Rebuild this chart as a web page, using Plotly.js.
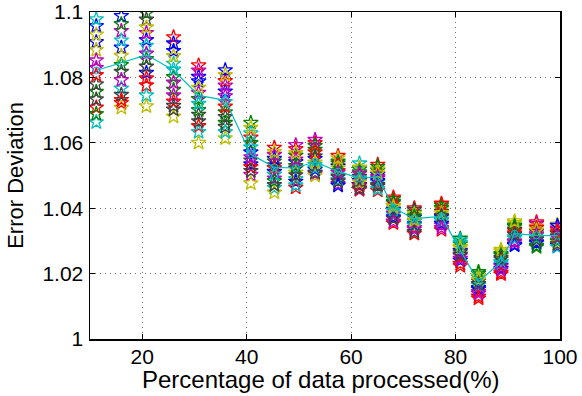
<!DOCTYPE html>
<html>
<head>
<meta charset="utf-8">
<script src="https://cdn.plot.ly/plotly-3.0.1.min.js"></script>
<style>
html,body{margin:0;padding:0;background:#fff;}
#chart{width:582px;height:396px;}
</style>
</head>
<body>
<div id="chart"></div>
<script>
// x positions (percentage of data processed)
var xPct = [11.2, 16.0, 20.8, 26.0, 30.8, 35.9, 40.8, 45.3, 49.4, 53.1, 57.5, 61.6, 65.1, 68.1, 72.1, 77.3, 80.9, 84.4, 88.7, 91.3, 95.5, 99.5];

// readings of each column (14 runs per column), ordered from top to bottom
var col01 = [1.0978, 1.0957, 1.0931, 1.0908, 1.0884, 1.0852, 1.0829, 1.0807, 1.0779, 1.0756, 1.0733, 1.0708, 1.0688, 1.0663];
var col02 = [1.0988, 1.0963, 1.0942, 1.0913, 1.0891, 1.0866, 1.0838, 1.0817, 1.0792, 1.0766, 1.0747, 1.0731, 1.0722, 1.0707];
var col03 = [1.0996, 1.0977, 1.0953, 1.0936, 1.0914, 1.0897, 1.0873, 1.0856, 1.0833, 1.0814, 1.0797, 1.0776, 1.0745, 1.0712];
var col04 = [1.0923, 1.0904, 1.0881, 1.0865, 1.0842, 1.0824, 1.0801, 1.0784, 1.0762, 1.0745, 1.0726, 1.0713, 1.0702, 1.0680];
var col05 = [1.0837, 1.0821, 1.0802, 1.0788, 1.0768, 1.0753, 1.0734, 1.0719, 1.0700, 1.0686, 1.0666, 1.0651, 1.0633, 1.0600];
var col06 = [1.0822, 1.0807, 1.0789, 1.0775, 1.0757, 1.0743, 1.0725, 1.0711, 1.0693, 1.0679, 1.0661, 1.0649, 1.0633, 1.0614];
var col07 = [1.0661, 1.0646, 1.0629, 1.0616, 1.0599, 1.0586, 1.0571, 1.0556, 1.0546, 1.0534, 1.0526, 1.0514, 1.0502, 1.0476];
var col08 = [1.0585, 1.0572, 1.0563, 1.0551, 1.0543, 1.0531, 1.0523, 1.0511, 1.0503, 1.0491, 1.0483, 1.0471, 1.0462, 1.0448];
var col09 = [1.0593, 1.0581, 1.0569, 1.0561, 1.0549, 1.0541, 1.0529, 1.0521, 1.0509, 1.0501, 1.0489, 1.0481, 1.0470, 1.0463];
var col10 = [1.0609, 1.0599, 1.0591, 1.0579, 1.0571, 1.0559, 1.0551, 1.0540, 1.0533, 1.0523, 1.0518, 1.0509, 1.0505, 1.0499];
var col11 = [1.0560, 1.0553, 1.0543, 1.0537, 1.0528, 1.0523, 1.0514, 1.0509, 1.0500, 1.0495, 1.0486, 1.0482, 1.0474, 1.0469];
var col12 = [1.0537, 1.0524, 1.0519, 1.0510, 1.0505, 1.0496, 1.0491, 1.0483, 1.0479, 1.0471, 1.0468, 1.0461, 1.0459, 1.0456];
var col13 = [1.0533, 1.0527, 1.0519, 1.0515, 1.0507, 1.0503, 1.0495, 1.0491, 1.0483, 1.0479, 1.0471, 1.0467, 1.0459, 1.0454];
var col14 = [1.0433, 1.0428, 1.0420, 1.0416, 1.0408, 1.0404, 1.0396, 1.0392, 1.0384, 1.0380, 1.0372, 1.0368, 1.0359, 1.0354];
var col15 = [1.0400, 1.0395, 1.0387, 1.0383, 1.0375, 1.0371, 1.0363, 1.0359, 1.0351, 1.0347, 1.0339, 1.0335, 1.0327, 1.0322];
var col16 = [1.0414, 1.0409, 1.0401, 1.0397, 1.0389, 1.0385, 1.0377, 1.0373, 1.0365, 1.0361, 1.0353, 1.0348, 1.0339, 1.0333];
var col17 = [1.0307, 1.0302, 1.0294, 1.0290, 1.0282, 1.0278, 1.0270, 1.0266, 1.0258, 1.0254, 1.0245, 1.0240, 1.0230, 1.0223];
var col18 = [1.0205, 1.0200, 1.0192, 1.0188, 1.0180, 1.0176, 1.0168, 1.0164, 1.0156, 1.0152, 1.0144, 1.0139, 1.0130, 1.0124];
var col19 = [1.0273, 1.0268, 1.0260, 1.0256, 1.0248, 1.0244, 1.0236, 1.0232, 1.0225, 1.0222, 1.0215, 1.0211, 1.0203, 1.0198];
var col20 = [1.0360, 1.0355, 1.0347, 1.0343, 1.0335, 1.0331, 1.0323, 1.0319, 1.0311, 1.0307, 1.0299, 1.0296, 1.0289, 1.0286];
var col21 = [1.0357, 1.0352, 1.0344, 1.0340, 1.0332, 1.0328, 1.0320, 1.0316, 1.0308, 1.0304, 1.0296, 1.0293, 1.0285, 1.0281];
var col22 = [1.0350, 1.0346, 1.0338, 1.0334, 1.0326, 1.0322, 1.0314, 1.0310, 1.0302, 1.0299, 1.0292, 1.0290, 1.0284, 1.0281];
var columns = [col01, col02, col03, col04, col05, col06, col07, col08, col09, col10, col11, col12, col13, col14, col15, col16, col17, col18, col19, col20, col21, col22];

// which reading of each column belongs to each run (run -> position in column list)
var run00 = [3, 0, 4, 2, 3, 4, 6, 7, 5, 6, 4, 7, 5, 6, 5, 7, 6, 8, 8, 13, 10, 12];
var run01 = [9, 6, 0, 8, 6, 8, 0, 4, 3, 3, 2, 2, 3, 1, 2, 1, 3, 0, 3, 3, 13, 5];
var run02 = [11, 12, 11, 0, 11, 2, 3, 0, 1, 1, 6, 13, 0, 13, 0, 13, 13, 12, 13, 5, 0, 3];
var run03 = [13, 9, 12, 5, 12, 6, 2, 12, 10, 8, 8, 0, 9, 9, 7, 8, 2, 3, 6, 8, 7, 8];
var run04 = [6, 2, 3, 9, 5, 3, 12, 9, 0, 12, 12, 12, 7, 8, 10, 11, 9, 10, 9, 10, 1, 2];
var run05 = [4, 13, 13, 13, 13, 13, 13, 13, 8, 13, 5, 1, 2, 4, 3, 3, 4, 2, 0, 1, 2, 0];
var run06 = [8, 7, 1, 12, 9, 9, 8, 5, 7, 5, 9, 5, 11, 3, 1, 4, 7, 5, 4, 4, 5, 6];
var run07 = [1, 4, 9, 1, 2, 0, 9, 3, 11, 10, 13, 9, 8, 10, 8, 10, 11, 9, 10, 12, 11, 1];
var run08 = [12, 1, 7, 6, 8, 10, 4, 10, 6, 2, 3, 3, 1, 2, 4, 2, 0, 1, 2, 2, 12, 9];
var run09 = [7, 11, 10, 10, 0, 7, 10, 6, 13, 4, 0, 10, 13, 0, 13, 0, 12, 13, 12, 6, 3, 4];
var run10 = [0, 3, 5, 4, 7, 12, 5, 8, 12, 9, 10, 6, 12, 7, 9, 9, 1, 7, 7, 9, 8, 13];
var run11 = [5, 8, 6, 7, 1, 5, 7, 2, 4, 0, 7, 4, 6, 12, 11, 12, 10, 11, 11, 11, 6, 7];
var run12 = [2, 5, 2, 3, 4, 1, 1, 1, 2, 7, 1, 8, 4, 5, 6, 5, 5, 4, 1, 0, 4, 10];
var run13 = [10, 10, 8, 11, 10, 11, 11, 11, 9, 11, 11, 11, 10, 11, 12, 6, 8, 6, 5, 7, 9, 11];
var runs = [run00, run01, run02, run03, run04, run05, run06, run07, run08, run09, run10, run11, run12, run13];

// mean error deviation (cyan line)
var meanDev = [1.0821, 1.0844, 1.0869, 1.0822, 1.0745, 1.0730, 1.0565, 1.0525, 1.0523, 1.0542, 1.0512, 1.0492, 1.0496, 1.0401, 1.0368, 1.0375, 1.0271, 1.0175, 1.0236, 1.0322, 1.0317, 1.0316];

var runColors = ['#0000ff', '#008000', '#ff0000', '#00bfbf', '#bf00bf', '#bfbf00', '#404040'];

var traces = [];
runs.forEach(function (r, k) {
  traces.push({
    type: 'scatter',
    mode: 'markers',
    x: xPct,
    y: r.map(function (pos, c) { return columns[c][pos]; }),
    marker: {symbol: 'star-open', size: 11, color: runColors[k % runColors.length], line: {width: 1.3}},
    showlegend: false,
    hoverinfo: 'x+y'
  });
});
traces.push({
  type: 'scatter',
  mode: 'lines+markers',
  x: xPct,
  y: meanDev,
  line: {color: '#00bfbf', width: 1.2},
  marker: {symbol: 'circle-open', size: 7, color: '#00bfbf', line: {width: 1}},
  showlegend: false
});

var fontFam = '"Liberation Sans", Arial, Helvetica, sans-serif';
var axisCommon = {
  ticks: 'inside',
  ticklen: 5,
  tickwidth: 1,
  tickcolor: '#000',
  mirror: 'ticks',
  showline: true,
  linecolor: '#000',
  linewidth: 1.5,
  showgrid: true,
  gridcolor: '#6e6e6e',
  gridwidth: 1,
  griddash: '1px,4px',
  zeroline: false,
  ticklabeloverflow: 'allow',
  tickfont: {size: 21, family: fontFam}
};
var layout = {
  width: 582,
  height: 396,
  margin: {l: 90, r: 22, t: 12, b: 57, pad: 0},
  paper_bgcolor: '#ffffff',
  plot_bgcolor: '#ffffff',
  font: {family: fontFam, color: '#000000', size: 21},
  xaxis: Object.assign({}, axisCommon, {
    range: [10, 100],
    tickvals: [20, 40, 60, 80, 100],
    ticktext: ['20', '40', '60', '80', '100'],
    ticklabelstandoff: -2
  }),
  yaxis: Object.assign({}, axisCommon, {
    range: [1, 1.1],
    tickvals: [1, 1.02, 1.04, 1.06, 1.08, 1.1],
    ticktext: ['1', '1.02', '1.04', '1.06', '1.08', '1.1'],
    ticklabelstandoff: 1,
    title: {text: 'Error Deviation', font: {size: 22, family: fontFam}, standoff: 12}
  }),
  annotations: [{
    text: 'Percentage of data processed(%)',
    xref: 'paper', yref: 'paper',
    x: 0.4915, y: 0, xanchor: 'center', yanchor: 'top',
    yshift: -27,
    borderpad: 0,
    borderwidth: 0,
    showarrow: false,
    font: {size: 24, family: fontFam, color: '#000'}
  }]
};

Plotly.newPlot('chart', traces, layout, {displayModeBar: false, staticPlot: true});
</script>
</body>
</html>
